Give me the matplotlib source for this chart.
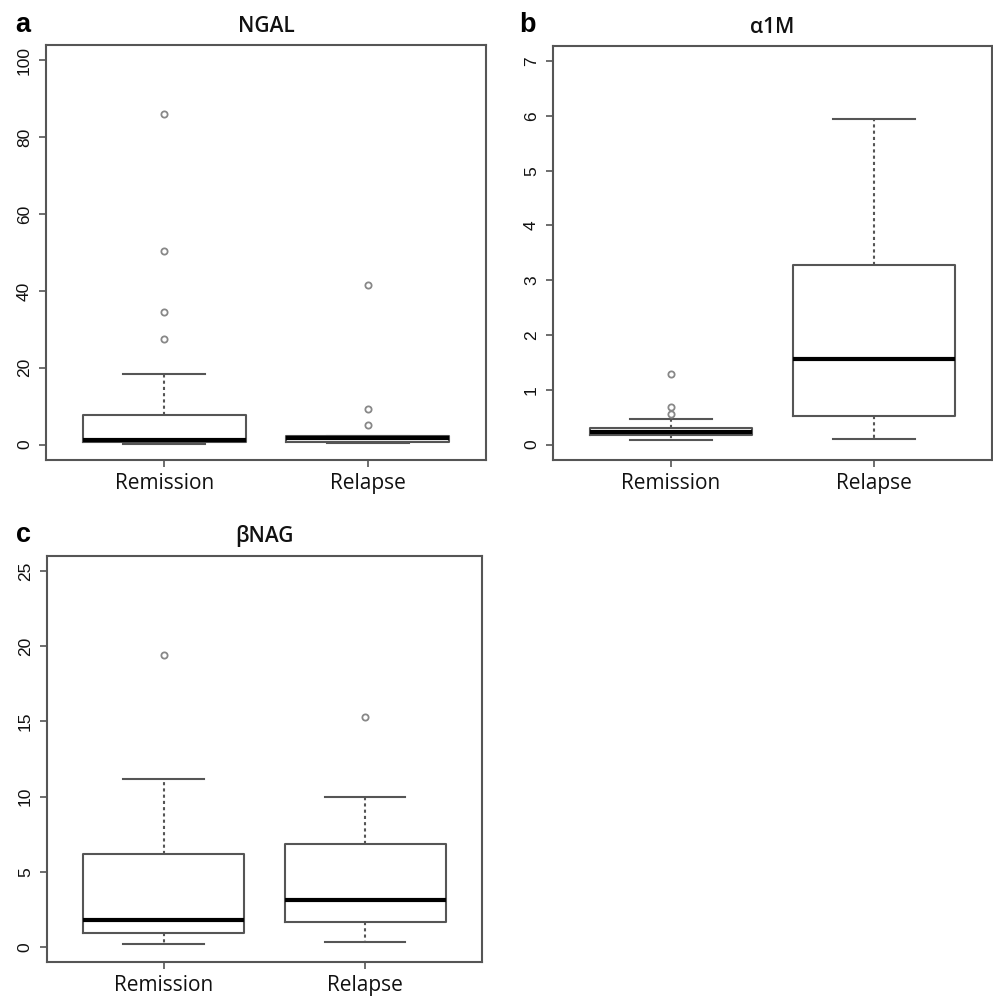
import numpy as np
import matplotlib
matplotlib.use('Agg')
import matplotlib.pyplot as plt

# groups
groups = ['Remission', 'Relapse']

# panel a - NGAL (box summary)
ngal_med = [1.2, 1.7]
ngal_q1 = [0.6, 0.7]
ngal_q3 = [7.6, 2.2]
ngal_lo = [0.1, 0.3]
ngal_hi = [18.4, 2.3]
ngal_out = [[27.5, 34.5, 50.4, 86.0], [5.0, 9.2, 41.6]]

# panel b - alpha1M
a1m_med = [0.23, 1.57]
a1m_q1 = [0.17, 0.52]
a1m_q3 = [0.30, 3.27]
a1m_lo = [0.08, 0.11]
a1m_hi = [0.47, 5.94]
a1m_out = [[0.56, 0.68, 1.29], []]

# panel c - betaNAG
bnag_med = [1.8, 3.1]
bnag_q1 = [0.9, 1.64]
bnag_q3 = [6.2, 6.86]
bnag_lo = [0.22, 0.33]
bnag_hi = [11.2, 9.98]
bnag_out = [[19.4], [15.3]]

W, H = 993, 1005
fig = plt.figure(figsize=(W / 100, H / 100), dpi=100)
fig.patch.set_facecolor('white')


def px(l, t, r, b):
    return [l / W, 1 - b / H, (r - l) / W, (b - t) / H]


edge = '#555555'


def panel(rect, title, letter, letter_xy, med, q1, q3, lo, hi, out, yticks, ylim, title_pad):
    ax = fig.add_axes(px(*rect))
    stats = []
    for k in range(len(groups)):
        stats.append(dict(med=med[k], q1=q1[k], q3=q3[k], whislo=lo[k],
                          whishi=hi[k], fliers=out[k], label=groups[k]))
    ax.bxp(stats, positions=[1, 2], widths=0.8,
           boxprops=dict(color=edge, linewidth=1.5),
           medianprops=dict(color='black', linewidth=3.0),
           whiskerprops=dict(color=edge, linewidth=1.5, linestyle=(0, (1.5, 1.5))),
           capprops=dict(color=edge, linewidth=1.5),
           flierprops=dict(marker='o', markersize=4.5, markerfacecolor='none',
                           markeredgecolor='#888888', markeredgewidth=1.3))
    ax.set_xlim(0.42, 2.58)
    ax.set_ylim(*ylim)
    ax.set_yticks(yticks)
    ax.set_yticklabels([str(v) for v in yticks], rotation=90, va='center',
                       family='Liberation Sans', fontsize=12.5, color='#111111')
    ax.set_xticks([1, 2])
    ax.set_xticklabels(groups, family='Open Sans', fontsize=15, color='#111111')
    ax.tick_params(axis='both', length=5, width=1.2, color=edge, direction='out')
    ax.tick_params(axis='y', pad=5)
    ax.tick_params(axis='x', pad=4)
    for s in ax.spines.values():
        s.set_color(edge)
        s.set_linewidth(1.5)
    ax.set_title(title, family='Open Sans', fontsize=15, pad=title_pad,
                 fontweight='semibold', color='#111111')
    fig.text(letter_xy[0] / W, 1 - letter_xy[1] / H, letter, family='Liberation Sans',
             fontsize=19.5, fontweight='bold', ha='left', va='baseline')
    return ax


panel((46, 45, 486, 460), 'NGAL', 'a', (15, 32),
      ngal_med, ngal_q1, ngal_q3, ngal_lo, ngal_hi, ngal_out,
      [0, 20, 40, 60, 80, 100], (-4, 104), 9.5)
panel((553, 45.7, 992, 460), 'α1M', 'b', (519, 32),
      a1m_med, a1m_q1, a1m_q3, a1m_lo, a1m_hi, a1m_out,
      [0, 1, 2, 3, 4, 5, 6, 7], (-0.28, 7.28), 9.5)
panel((46.7, 556, 482, 962), 'βNAG', 'c', (16, 542),
      bnag_med, bnag_q1, bnag_q3, bnag_lo, bnag_hi, bnag_out,
      [0, 5, 10, 15, 20, 25], (-1, 26), 10)

fig.savefig('out.png', dpi=100, facecolor='white')
